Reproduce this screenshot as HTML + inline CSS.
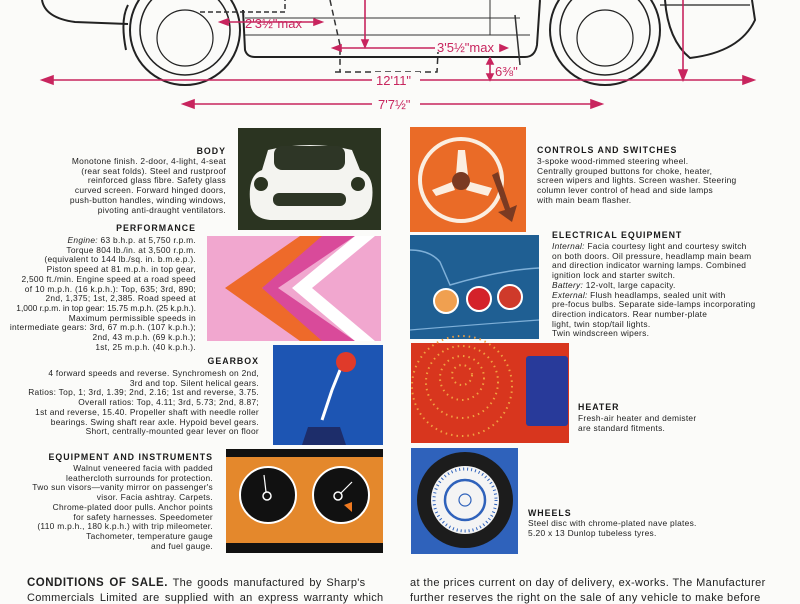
<!DOCTYPE html>
<html><head><meta charset="utf-8"><style>
body{margin:0;width:800px;height:600px;overflow:hidden;background:#fbfbf9;position:relative;font-family:"Liberation Sans",sans-serif;color:#222}
.t{position:absolute;font-size:8.4px;line-height:9.7px;white-space:nowrap;letter-spacing:0.28px}
.r{text-align:right}
.h{font-weight:bold;font-size:8.8px;letter-spacing:1px;position:absolute;white-space:nowrap;color:#1a1a1a}
.c{position:absolute;font-size:11px;white-space:nowrap;letter-spacing:0.3px}
svg{position:absolute;left:0;top:0}
</style></head><body>
<svg width="800" height="600" viewBox="0 0 800 600">
<g fill="none" stroke="#222" stroke-width="2">
<path d="M42 0 Q45 18 75 22 L128 24"/>
<path d="M128 5 Q120 20 126 50"/>
<circle cx="185" cy="30" r="55"/>
<circle cx="185" cy="30" r="45" stroke-width="1.5"/>
<circle cx="185" cy="38" r="28" stroke-width="1.2"/>
<path d="M243 10 L245 50 Q247 57 255 57 L525 57 Q535 57 537 45 L540 0"/>
<circle cx="605" cy="30" r="55"/>
<circle cx="605" cy="30" r="45" stroke-width="1.5"/>
<circle cx="605" cy="38" r="28" stroke-width="1.2"/>
<path d="M665 0 Q668 40 690 58 Q740 52 755 20 L752 0"/>
<path d="M660 5 L750 5" stroke-width="1.2"/>
</g>
<g fill="none" stroke="#333" stroke-width="1">
<path d="M245 35 L530 35"/><path d="M245 18 L520 18"/>
<path d="M490 0 L490 35"/>
<path d="M330 0 L340 45 L340 72" stroke-dasharray="6 4" stroke-width="1.5"/>
<path d="M335 72 L437 72 L438 52" stroke-dasharray="6 4" stroke-width="1.5"/>
<path d="M200 12 L285 12 L285 0" stroke-dasharray="5 3" stroke-width="1.5"/>
<path d="M515 15 L520 65" stroke-width="1.5"/>
</g>
<g stroke="#c8255e" stroke-width="1.6" fill="#c8255e">
<line x1="48" y1="80" x2="372" y2="80"/><line x1="420" y1="80" x2="748" y2="80"/>
<polygon points="42,80 53,76 53,84"/><polygon points="754,80 743,76 743,84"/>
<line x1="190" y1="104" x2="372" y2="104"/><line x1="420" y1="104" x2="595" y2="104"/>
<polygon points="183,104 194,100 194,108"/><polygon points="602,104 591,100 591,108"/>
<line x1="683" y1="0" x2="683" y2="72"/><polygon points="683,80 679,70 687,70"/>
<line x1="490" y1="62" x2="490" y2="76"/><polygon points="490,58 487,64 493,64"/><polygon points="490,80 487,74 493,74"/>
<line x1="225" y1="22" x2="318" y2="22"/><polygon points="220,22 228,19 228,25"/><polygon points="322,22 314,19 314,25"/>
<line x1="338" y1="48" x2="435" y2="48"/><polygon points="333,48 341,45 341,51"/>
<polygon points="507,48 500,45 500,51"/>
<line x1="365" y1="0" x2="365" y2="42"/><polygon points="365,47 362,40 368,40"/>
</g>
<g fill="#c8255e" font-family="Liberation Sans" font-size="13">
<rect x="372" y="72" width="48" height="14" fill="#fbfbf9"/><text x="376" y="85">12'11"</text>
<rect x="372" y="96" width="48" height="14" fill="#fbfbf9"/><text x="378" y="109">7'7½"</text>
<text x="245" y="28">2'3½"max</text>
<text x="437" y="52">3'5½"max</text>
<text x="495" y="76">6⅜"</text>
</g>

<rect x="238" y="128" width="143" height="102" fill="#2b3421"/>
<path d="M268 150 Q310 140 352 150 L360 170 Q375 175 372 200 Q370 218 350 220 L270 220 Q250 218 250 200 Q248 175 262 170 Z" fill="#f4f4f0"/>
<rect x="274" y="146" width="71" height="24" rx="8" fill="#2e3626"/>
<circle cx="261" cy="184" r="7" fill="#2b3421"/><circle cx="358" cy="184" r="7" fill="#2b3421"/>
<rect x="273" y="193" width="73" height="13" rx="6" fill="#2e3626"/>
<rect x="207" y="236" width="174" height="105" fill="#f1a7cf"/>
<path d="M300 236 L340 236 L262 288 L340 341 L300 341 L225 288 Z" fill="#ee6a2a"/>
<path d="M322 236 L355 236 L278 288 L355 341 L322 341 L262 288 Z" fill="#d94a9a"/>
<path d="M355 236 L375 236 L312 288 L375 341 L355 341 L292 288 Z" fill="#fff"/>
<rect x="273" y="345" width="110" height="100" fill="#1d55b3"/>
<path d="M322 420 L332 390 L340 370" stroke="#fff" stroke-width="3" fill="none"/>
<circle cx="346" cy="362" r="10" fill="#e03a2a"/>
<path d="M302 445 L308 427 L340 427 L346 445 Z" fill="#1d2d6a"/>
<rect x="226" y="449" width="157" height="104" fill="#e4882c"/>
<rect x="226" y="449" width="157" height="8" fill="#111"/>
<rect x="226" y="543" width="157" height="10" fill="#111"/>
<circle cx="268" cy="495" r="28" fill="#111" stroke="#fff" stroke-width="2"/>
<circle cx="341" cy="495" r="28" fill="#111" stroke="#fff" stroke-width="2"/>
<circle cx="267" cy="496" r="4" fill="none" stroke="#fff" stroke-width="1.5"/>
<circle cx="338" cy="496" r="4" fill="none" stroke="#fff" stroke-width="1.5"/>
<line x1="266" y1="492" x2="264" y2="475" stroke="#fff" stroke-width="1.2"/>
<line x1="341" y1="493" x2="352" y2="482" stroke="#fff" stroke-width="1.2"/>
<path d="M344 505 L352 502 L352 512 Z" fill="#f07a20"/>
<rect x="410" y="127" width="116" height="105" fill="#ea6b27"/>
<circle cx="461" cy="180" r="41" fill="none" stroke="#fbeee0" stroke-width="4"/>
<path d="M458 150 L465 150 L468 175 L456 175 Z M432 190 L452 182 L455 190 L436 196 Z M470 182 L492 188 L488 196 L466 190 Z" fill="#fbeee0"/>
<circle cx="461" cy="181" r="9" fill="#7a3a22"/>
<path d="M492 175 L505 210 L498 212 L512 222 L517 205 L510 208 L498 172 Z" fill="#7a3a22"/>
<rect x="410" y="235" width="129" height="104" fill="#1f5f93"/>
<path d="M410 250 Q430 250 440 262 L450 285 Q500 270 539 268" fill="none" stroke="#7fb0d8" stroke-width="1.5"/>
<path d="M410 330 Q470 325 539 320" fill="none" stroke="#7fb0d8" stroke-width="1.2"/>
<circle cx="446" cy="301" r="12" fill="#f0a050" stroke="#fff" stroke-width="2"/>
<circle cx="479" cy="299" r="12" fill="#d4222a" stroke="#fff" stroke-width="2"/>
<circle cx="510" cy="297" r="12" fill="#cf3a2a" stroke="#fff" stroke-width="2"/>
<rect x="411" y="343" width="158" height="100" fill="#d8361e"/>
<rect x="526" y="356" width="42" height="70" rx="3" fill="#283a9a"/>
<g fill="none" stroke="#f0a040" stroke-width="2" stroke-dasharray="1.5 4">
<circle cx="462" cy="375" r="10"/><circle cx="462" cy="378" r="22"/><circle cx="462" cy="382" r="36"/><circle cx="462" cy="386" r="50"/>
</g>
<rect x="411" y="448" width="107" height="106" fill="#2f62bb"/>
<circle cx="465" cy="500" r="48" fill="#1c1c1c"/>
<circle cx="465" cy="500" r="34" fill="#f4f4f4"/>
<circle cx="465" cy="500" r="31" fill="none" stroke="#2f62bb" stroke-width="3" stroke-dasharray="1 3"/>
<circle cx="465" cy="500" r="20" fill="none" stroke="#2f62bb" stroke-width="2.5"/>
<circle cx="465" cy="500" r="6" fill="none" stroke="#2f62bb" stroke-width="1.2"/>
</svg>

<div class="h" style="right:574px;top:146px">BODY</div>
<div class="t r" style="right:574px;top:157px">Monotone finish. 2-door, 4-light, 4-seat<br>(rear seat folds). Steel and rustproof<br>reinforced glass fibre. Safety glass<br>curved screen. Forward hinged doors,<br>push-button handles, winding windows,<br>pivoting anti-draught ventilators.</div>

<div class="h" style="right:604px;top:223px">PERFORMANCE</div>
<div class="t r" style="right:604px;top:236px"><i>Engine:</i> 63 b.h.p. at 5,750 r.p.m.<br>Torque 804 lb./in. at 3,500 r.p.m.<br>(equivalent to 144 lb./sq. in. b.m.e.p.).<br>Piston speed at 81 m.p.h. in top gear,<br>2,500 ft./min. Engine speed at a road speed<br>of 10 m.p.h. (16 k.p.h.): Top, 635; 3rd, 890;<br>2nd, 1,375; 1st, 2,385. Road speed at<br><span style="letter-spacing:0">1,000 r.p.m. in top gear: 15.75 m.p.h. (25 k.p.h.).</span><br>Maximum permissible speeds in<br>intermediate gears: 3rd, 67 m.p.h. (107 k.p.h.);<br>2nd, 43 m.p.h. (69 k.p.h.);<br>1st, 25 m.p.h. (40 k.p.h.).</div>

<div class="h" style="right:541px;top:356px">GEARBOX</div>
<div class="t r" style="right:541px;top:369px">4 forward speeds and reverse. Synchromesh on 2nd,<br>3rd and top. Silent helical gears.<br>Ratios: Top, 1; 3rd, 1.39; 2nd, 2.16; 1st and reverse, 3.75.<br>Overall ratios: Top, 4.11; 3rd, 5.73; 2nd, 8.87;<br>1st and reverse, 15.40. Propeller shaft with needle roller<br>bearings. Swing shaft rear axle. Hypoid bevel gears.<br>Short, centrally-mounted gear lever on floor</div>

<div class="h" style="right:587px;top:452px">EQUIPMENT AND INSTRUMENTS</div>
<div class="t r" style="right:587px;top:464px">Walnut veneered facia with padded<br>leathercloth surrounds for protection.<br>Two sun visors—vanity mirror on passenger's<br>visor. Facia ashtray. Carpets.<br>Chrome-plated door pulls. Anchor points<br>for safety harnesses. Speedometer<br>(110 m.p.h., 180 k.p.h.) with trip mileometer.<br>Tachometer, temperature gauge<br>and fuel gauge.</div>

<div class="h" style="left:537px;top:145px">CONTROLS AND SWITCHES</div>
<div class="t" style="left:537px;top:157px">3-spoke wood-rimmed steering wheel.<br>Centrally grouped buttons for choke, heater,<br>screen wipers and lights. Screen washer. Steering<br>column lever control of head and side lamps<br>with main beam flasher.</div>

<div class="h" style="left:552px;top:230px">ELECTRICAL EQUIPMENT</div>
<div class="t" style="left:552px;top:242px"><i>Internal:</i> Facia courtesy light and courtesy switch<br>on both doors. Oil pressure, headlamp main beam<br>and direction indicator warning lamps. Combined<br>ignition lock and starter switch.<br><i>Battery:</i> 12-volt, large capacity.<br><i>External:</i> Flush headlamps, sealed unit with<br>pre-focus bulbs. Separate side-lamps incorporating<br>direction indicators. Rear number-plate<br>light, twin stop/tail lights.<br>Twin windscreen wipers.</div>

<div class="h" style="left:578px;top:402px">HEATER</div>
<div class="t" style="left:578px;top:414px">Fresh-air heater and demister<br>are standard fitments.</div>

<div class="h" style="left:528px;top:508px">WHEELS</div>
<div class="t" style="left:528px;top:519px">Steel disc with chrome-plated nave plates.<br>5.20 x 13 Dunlop tubeless tyres.</div>

<div class="c" style="left:27px;top:577px;word-spacing:1.5px"><b style="font-size:11.5px;letter-spacing:0.5px">CONDITIONS OF SALE.</b> The goods manufactured by Sharp's</div>
<div class="c" style="left:27px;top:592px;word-spacing:2px">Commercials Limited are supplied with an express warranty which</div>
<div class="c" style="left:410px;top:577px;letter-spacing:0.4px">at the prices current on day of delivery, ex-works. The Manufacturer</div>
<div class="c" style="left:410px;top:592px;letter-spacing:0.4px">further reserves the right on the sale of any vehicle to make before</div>
</body></html>
